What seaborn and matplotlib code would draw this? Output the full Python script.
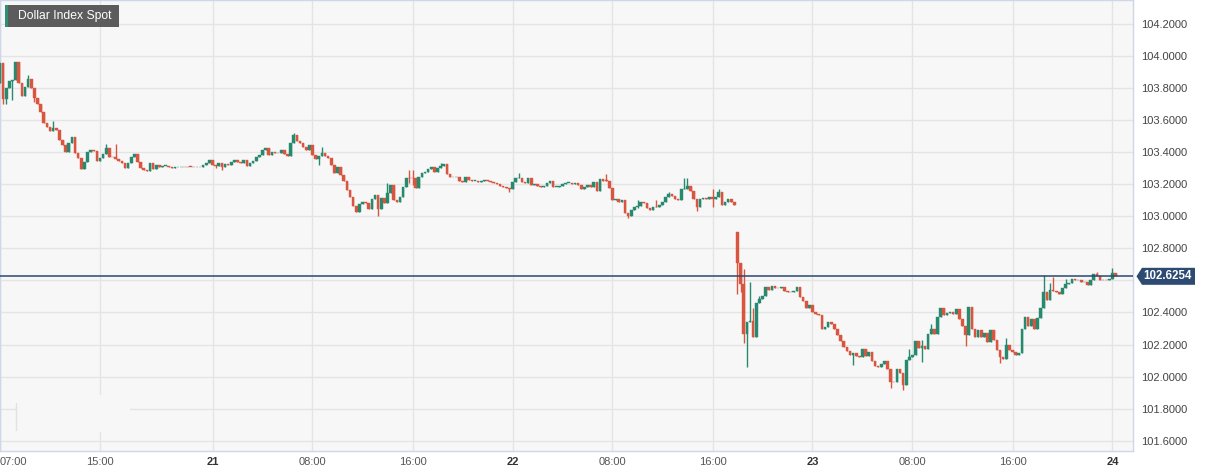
import numpy as np
import pandas as pd
import matplotlib
matplotlib.use("Agg")
import matplotlib.pyplot as plt
import matplotlib.dates as mdates
from matplotlib.patches import Rectangle, Polygon
from matplotlib.lines import Line2D
from matplotlib.transforms import blended_transform_factory
import seaborn as sns

# 15 minute candles from 20 Mar 07:00 (close of each candle)
first_open = 103.828
close_mar20 = [
    103.957, 103.728, 103.797, 103.844, 103.848, 103.958, 103.828, 103.749, 103.807, 103.853,
    103.797, 103.734, 103.699, 103.651, 103.578, 103.553, 103.533, 103.547, 103.537, 103.475,
    103.443, 103.402, 103.454, 103.495, 103.391, 103.360, 103.292, 103.340, 103.402, 103.412,
    103.406, 103.346, 103.360, 103.387, 103.423, 103.371, 103.366, 103.354, 103.346, 103.333,
    103.298, 103.329, 103.366, 103.387, 103.340, 103.298, 103.288, 103.283, 103.333, 103.292,
    103.319, 103.308, 103.313, 103.313, 103.304, 103.298, 103.304, 103.304, 103.308, 103.304,
    103.308, 103.306, 103.304, 103.308, 103.304, 103.319, 103.333, 103.350,
]
close_mar21 = [
    103.319, 103.313, 103.333, 103.308, 103.325, 103.319, 103.340, 103.350, 103.335, 103.333,
    103.350, 103.313, 103.333, 103.346, 103.366, 103.381, 103.412, 103.423, 103.381, 103.402,
    103.396, 103.391, 103.412, 103.387, 103.375, 103.458, 103.506, 103.471, 103.458, 103.429,
    103.412, 103.443, 103.381, 103.354, 103.375, 103.396, 103.375, 103.360, 103.319, 103.271,
    103.304, 103.257, 103.221, 103.163, 103.121, 103.063, 103.028, 103.076, 103.090, 103.084,
    103.043, 103.105, 103.132, 103.043, 103.111, 103.080, 103.142, 103.194, 103.100, 103.090,
    103.120, 103.184, 103.240, 103.236, 103.235, 103.175, 103.246, 103.271, 103.277, 103.292,
    103.304, 103.277, 103.298, 103.310, 103.325, 103.263, 103.246, 103.242, 103.246, 103.221,
    103.212, 103.242, 103.225, 103.220, 103.222, 103.210, 103.218, 103.228, 103.222, 103.212,
    103.205, 103.200, 103.190, 103.180, 103.173, 103.170,
]
close_mar22 = [
    103.210, 103.236, 103.240, 103.215, 103.205, 103.240, 103.195, 103.200, 103.188, 103.184,
    103.190, 103.205, 103.220, 103.180, 103.182, 103.190, 103.200, 103.205, 103.207, 103.200,
    103.208, 103.195, 103.168, 103.180, 103.195, 103.180, 103.215, 103.160, 103.230, 103.220,
    103.218, 103.174, 103.100, 103.110, 103.090, 103.100, 103.020, 103.000, 103.040, 103.060,
    103.065, 103.090, 103.085, 103.050, 103.040, 103.060, 103.055, 103.070, 103.090, 103.120,
    103.140, 103.125, 103.110, 103.100, 103.167, 103.170, 103.190, 103.155, 103.110, 103.060,
    103.110, 103.112, 103.108, 103.120, 103.110, 103.120, 103.150, 103.070, 103.090, 103.110,
    103.090, 103.070, 102.710, 102.577, 102.266, 102.343, 102.350, 102.250, 102.457, 102.482,
    102.502, 102.561, 102.540, 102.567, 102.555, 102.550, 102.560, 102.535, 102.530, 102.525,
    102.535, 102.560, 102.495, 102.470, 102.430, 102.445,
]
close_mar23 = [
    102.400, 102.390, 102.385, 102.300, 102.310, 102.340, 102.330, 102.295, 102.260, 102.225,
    102.183, 102.160, 102.135, 102.145, 102.130, 102.120, 102.170, 102.130, 102.155, 102.100,
    102.067, 102.062, 102.080, 102.100, 102.050, 101.970, 101.965, 102.050, 102.025, 101.950,
    102.104, 102.120, 102.135, 102.220, 102.176, 102.190, 102.170, 102.265, 102.295, 102.265,
    102.374, 102.426, 102.385, 102.395, 102.405, 102.390, 102.420, 102.360, 102.315, 102.260,
    102.437, 102.300, 102.250, 102.290, 102.245, 102.270, 102.218, 102.290, 102.230, 102.166,
    102.120, 102.110, 102.200, 102.166, 102.155, 102.135, 102.145, 102.295, 102.370, 102.315,
    102.357, 102.300, 102.363, 102.426, 102.530, 102.480, 102.540, 102.535, 102.530, 102.515,
    102.550, 102.580, 102.585, 102.610, 102.600, 102.600, 102.588, 102.593, 102.570, 102.600,
    102.640, 102.627, 102.600, 102.603, 102.600, 102.610,
]
close_mar24 = [102.645, 102.6254]

# open that does not follow the previous close (price gap at the Fed decision)
gap_opens = {236: 102.904}

# visible wick ends (candle number: price)
high_wicks = {
    9: 103.88, 17: 103.59, 34: 103.447, 37: 103.447, 94: 103.516, 103: 103.43, 124: 103.205,
    131: 103.29, 132: 103.29, 141: 103.33, 166: 103.27, 194: 103.26, 204: 103.10, 210: 103.10,
    214: 103.15, 219: 103.236, 220: 103.236, 228: 103.17, 230: 103.17,
    237: 102.70, 238: 102.67, 240: 102.59, 241: 102.425, 243: 102.50,
    291: 102.17, 295: 102.226, 298: 102.33, 322: 102.24, 334: 102.634, 336: 102.585,
    337: 102.62, 341: 102.606, 351: 102.65, 356: 102.68,
}
low_wicks = {
    1: 103.70, 2: 103.70, 4: 103.724, 11: 103.71, 17: 103.53, 69: 103.298, 71: 103.29,
    102: 103.32, 121: 103.0, 131: 103.205, 132: 103.195, 163: 103.15, 201: 102.99, 204: 103.05,
    223: 103.03, 228: 103.06,
    236: 102.515, 237: 102.53, 238: 102.208, 239: 102.058, 240: 102.34, 273: 102.07,
    285: 101.93, 289: 101.92, 295: 102.09, 309: 102.19, 320: 102.083,
}

last_price = 102.6254
y_ticks = [101.6, 101.8, 102.0, 102.2, 102.4, 102.6, 102.8, 103.0, 103.2, 103.4, 103.6, 103.8, 104.0, 104.2]
tick_times = ["2023-03-20 07:00", "2023-03-20 15:00", "2023-03-21 00:00", "2023-03-21 08:00",
              "2023-03-21 16:00", "2023-03-22 00:00", "2023-03-22 08:00", "2023-03-22 16:00",
              "2023-03-23 00:00", "2023-03-23 08:00", "2023-03-23 16:00", "2023-03-24 00:00"]

# build OHLC table
closes = np.array(close_mar20 + close_mar21 + close_mar22 + close_mar23 + close_mar24)
opens = np.concatenate([[first_open], closes[:-1]])
for i, v in gap_opens.items():
    opens[i] = v
highs = np.maximum(opens, closes)
lows = np.minimum(opens, closes)
for i, v in high_wicks.items():
    highs[i] = max(highs[i], v)
for i, v in low_wicks.items():
    lows[i] = min(lows[i], v)
times = pd.date_range("2023-03-20 07:00", periods=len(closes), freq="15min")
df = pd.DataFrame({"time": times, "open": opens, "high": highs, "low": lows, "close": closes})
df["x"] = mdates.date2num(df["time"])
up = df["close"] >= df["open"]
green, red = "#278a6e", "#d8553f"
df["color"] = np.where(up, green, red)

sns.set_style("white")
plt.rcParams["font.family"] = ["Liberation Sans", "DejaVu Sans"]

W, H = 1210, 476
fig = plt.figure(figsize=(W / 100, H / 100), dpi=100)
ax = fig.add_axes([0, 25 / H, 1133 / W, 451 / H])
ax.set_facecolor("#f7f7f7")

# candles
ax.vlines(df["x"], df["low"], df["high"], colors=df["color"], lw=1.0, zorder=3)
body = np.maximum((df["close"] - df["open"]).abs(), 0.005)
ax.bar(df["x"], body, bottom=np.minimum(df["open"], df["close"]), width=0.21 / 24,
       color=df["color"], edgecolor=df["color"], linewidth=0.3, zorder=4)

ax.axhline(last_price, color="#2b4870", lw=1.1, zorder=5)

x0 = mdates.date2num(pd.Timestamp("2023-03-20 07:00"))
ax.set_xlim(x0, x0 + 90.64 / 24)
ax.set_ylim(101.537, 104.347)

ax.set_axisbelow(True)
ax.grid(True, color="#e4e4e4", lw=1)
for s in ax.spines.values():
    s.set_color("#cfd6ea")
    s.set_linewidth(1)

# the 102.6 label sits under the last price tag, so it is left blank
ax.yaxis.tick_right()
ax.set_yticks(y_ticks)
ax.set_yticklabels(["" if abs(v - last_price) < 0.1 else "{:.4f}".format(v) for v in y_ticks])
ax.tick_params(axis="y", length=0, pad=5.5, labelsize=8, labelcolor="#444444")

tt = pd.to_datetime(tick_times)
ax.set_xticks(mdates.date2num(tt))
ax.set_xticklabels([t.strftime("%d").lstrip("0") if t.hour == 0 else t.strftime("%H:%M") for t in tt])
ax.tick_params(axis="x", length=0, pad=4.5, labelsize=8, labelcolor="#555555")
for t, lab in zip(tt, ax.get_xticklabels()):
    if t.hour == 0:
        lab.set_fontweight("bold")
        lab.set_color("#333333")
ax.get_xticklabels()[0].set_ha("left")

def fx(px):
    return px / W

def fy(py):
    return 1 - py / H

# faint box left in the lower left corner
fig.add_artist(Rectangle((fx(15.5), fy(432)), fx(114.5), 37 / H, transform=fig.transFigure,
                         facecolor="#f7f7f7", edgecolor="none", zorder=2))
fig.add_artist(Line2D([fx(15.5), fx(15.5)], [fy(430), fy(403)], transform=fig.transFigure,
                      color="#e2e2e2", lw=1, zorder=3))

# title box
fig.add_artist(Rectangle((fx(5), fy(27)), fx(114), 22 / H, transform=fig.transFigure,
                         facecolor="#5c5c5c", edgecolor="none", zorder=5))
fig.add_artist(Rectangle((fx(5), fy(27)), fx(2.5), 22 / H, transform=fig.transFigure,
                         facecolor="#2f8f72", edgecolor="none", zorder=6))
fig.text(fx(17.5), fy(16.5), "Dollar Index Spot", color="white", fontsize=8.7,
         ha="left", va="center", zorder=7)

# last price tag
bt = blended_transform_factory(fig.transFigure, ax.transData)
hh = 8.5 / 160.5
tag = Polygon([(fx(1136.5), last_price), (fx(1142), last_price + hh), (fx(1195), last_price + hh),
               (fx(1195), last_price - hh), (fx(1142), last_price - hh)],
              closed=True, transform=bt, facecolor="#2d4a72", edgecolor="none", zorder=6)
fig.add_artist(tag)
fig.text(fx(1167), last_price, "{:.4f}".format(last_price), transform=bt, color="white",
         fontsize=8.3, fontweight="bold", ha="center", va="center", zorder=7)

fig.savefig("out.png", dpi=100)
